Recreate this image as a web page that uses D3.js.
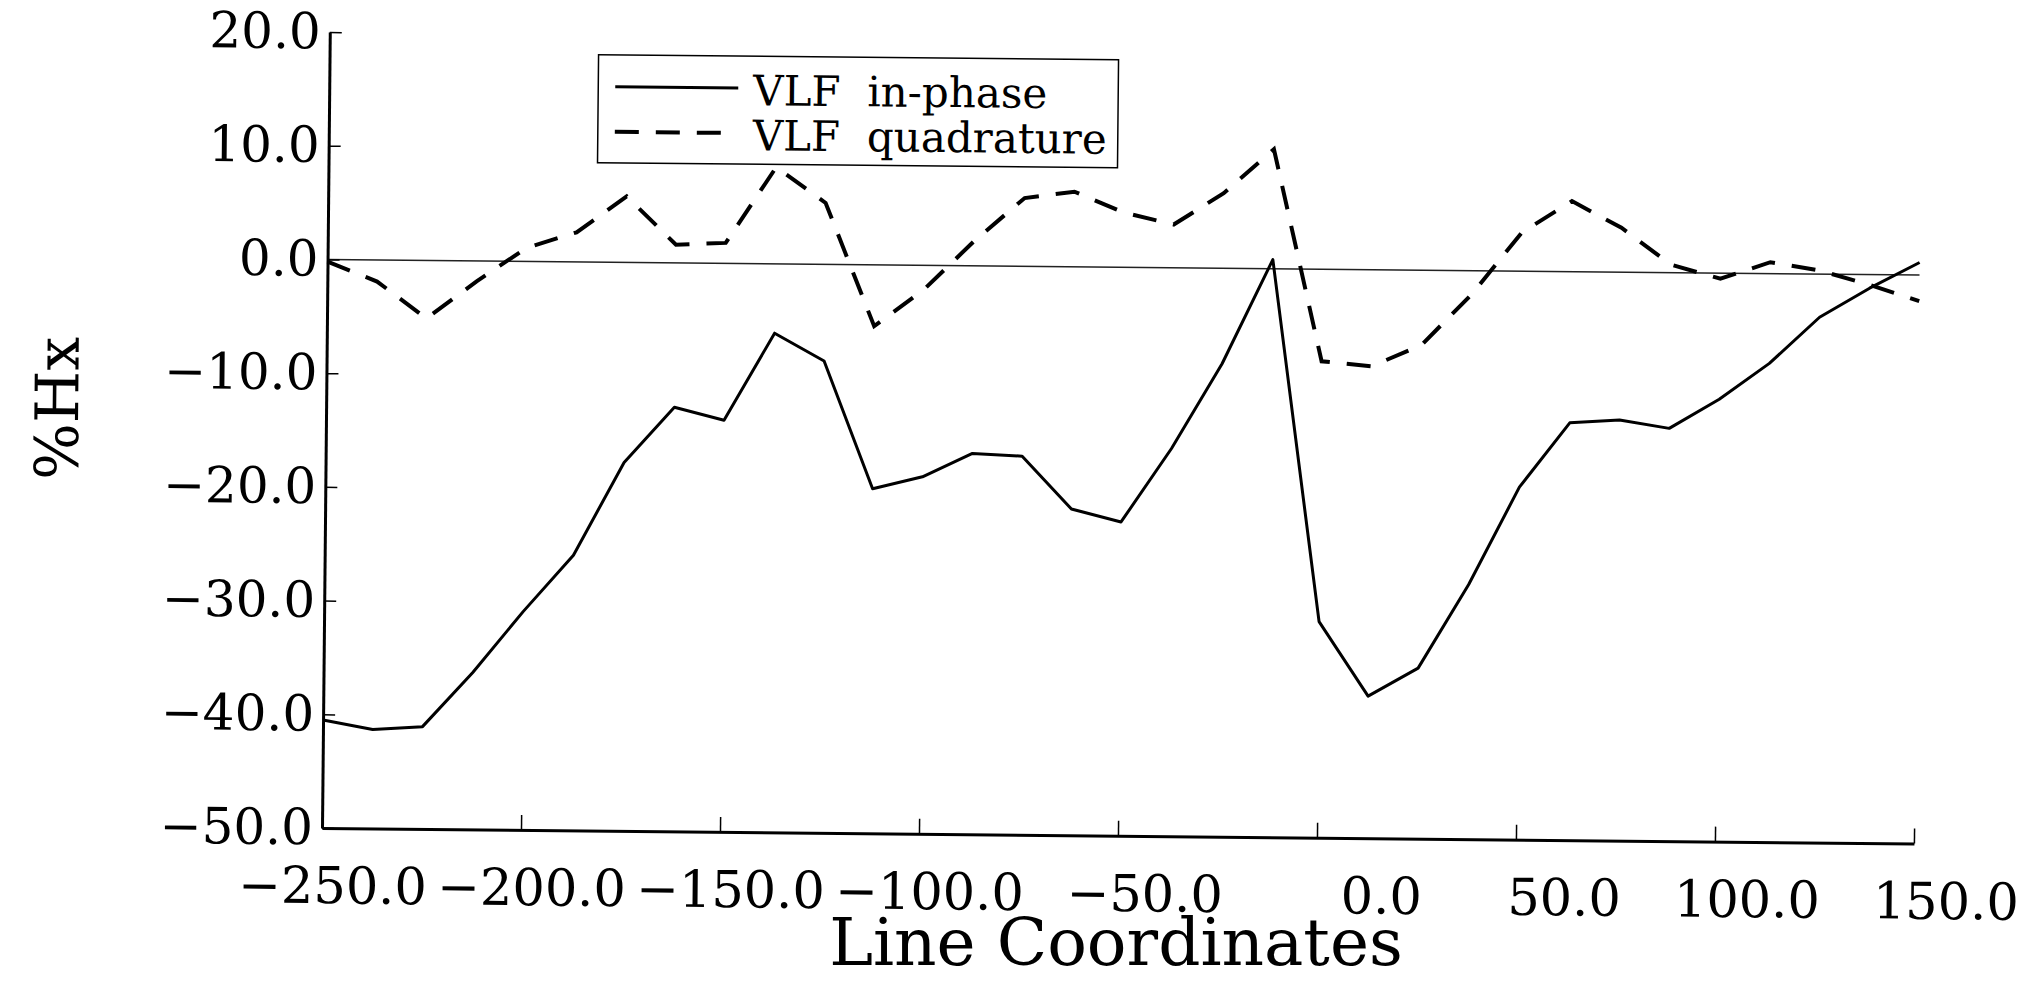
<!DOCTYPE html>
<html>
<head>
<meta charset="utf-8">
<script src="https://cdn.jsdelivr.net/npm/d3@7"></script>
<style>
  html, body { margin: 0; padding: 0; background: #fff; }
  svg { display: block; }
  text { font-family: "DejaVu Serif", serif; fill: #000; }
</style>
</head>
<body>
<svg id="chart"></svg>
<script>
// values
const lineCoords = [-250, -237.5, -225, -212.5, -200, -187.5, -175, -162.5, -150, -137.5, -125,
  -112.5, -100, -87.5, -75, -62.5, -50, -37.5, -25, -12.5, 0, 12.5, 25, 37.5, 50, 62.5, 75,
  87.5, 100, 112.5, 125, 137.5, 150];
const inPhase = [-40.5, -41.3, -41.0, -36.2, -30.8, -25.8, -17.6, -12.7, -13.8, -6.1, -8.5,
  -19.7, -18.6, -16.5, -16.7, -21.3, -22.4, -15.9, -8.4, 0.8, -31.0, -37.5, -35.0, -27.6, -19.0,
  -13.3, -13.0, -13.7, -11.1, -7.9, -3.8, -1.2, 1.1];
const quadrature = [-0.2, -1.9, -5.1, -1.8, 1.2, 2.6, 5.8, 1.6, 1.8, 8.5, 5.4,
  -5.4, -2.1, 2.2, 6.0, 6.6, 4.8, 3.8, 6.6, 10.5, -8.1, -8.5, -6.6, -2.1, 3.4,
  6.2, 3.9, 0.7, -0.5, 1.0, 0.3, -0.9, -2.3];
const xTicks = [-250, -200, -150, -100, -50, 0, 50, 100, 150];
const yTicks = [-50, -40, -30, -20, -10, 0, 10, 20];
const seriesNames = ["VLF\u00a0\u00a0in-phase", "VLF\u00a0\u00a0quadrature"];

class VlfProfile {
  constructor(_config) {
    this.config = {
      parentElement: _config.parentElement,
      containerWidth: 2028,
      containerHeight: 981,
      margin: { top: 32, right: 114, bottom: 153, left: 322 },
      tilt: 0.56, // the scan is slightly rotated
      dash: "24,17"
    };
    this.initVis();
  }

  initVis() {
    let vis = this;
    const c = vis.config;

    vis.width = c.containerWidth - c.margin.left - c.margin.right;
    vis.height = c.containerHeight - c.margin.top - c.margin.bottom;

    vis.xScale = d3.scaleLinear().domain([-250, 150]).range([0, vis.width]);
    vis.yScale = d3.scaleLinear().domain([-50, 20]).range([vis.height, 0]);

    vis.svg = d3.select(c.parentElement)
      .attr("width", c.containerWidth)
      .attr("height", c.containerHeight);

    vis.page = vis.svg.append("g")
      .attr("transform", `rotate(${c.tilt},${c.margin.left},${c.margin.top + vis.height})`);

    vis.chart = vis.page.append("g")
      .attr("transform", `translate(${c.margin.left},${c.margin.top})`);

    vis.renderVis();
  }

  renderVis() {
    let vis = this;
    const c = vis.config;
    const fmt = d3.format(".1f");

    // zero reference line
    vis.chart.append("line")
      .attr("x1", vis.xScale(-250))
      .attr("x2", vis.xScale(150))
      .attr("y1", vis.yScale(0))
      .attr("y2", vis.yScale(0))
      .attr("stroke", "#222")
      .attr("stroke-width", 1.5);

    const line = values => d3.line()
      .x((d, i) => vis.xScale(lineCoords[i]))
      .y(d => vis.yScale(d))(values);

    vis.chart.append("path")
      .attr("d", line(inPhase))
      .attr("fill", "none")
      .attr("stroke", "#000")
      .attr("stroke-width", 3)
      .attr("stroke-linejoin", "round");

    vis.chart.append("path")
      .attr("d", line(quadrature))
      .attr("fill", "none")
      .attr("stroke", "#000")
      .attr("stroke-width", 4)
      .attr("stroke-dasharray", c.dash);

    // axes, ticks pointing inward
    const yAxis = d3.axisLeft(vis.yScale)
      .tickValues(yTicks)
      .tickFormat(fmt)
      .tickSize(-12)
      .tickSizeOuter(0)
      .tickPadding(9);

    const xAxis = d3.axisBottom(vis.xScale)
      .tickValues(xTicks)
      .tickFormat(fmt)
      .tickSize(-15)
      .tickSizeOuter(0)
      .tickPadding(39);

    const yAxisG = vis.chart.append("g").call(yAxis);
    const xAxisG = vis.chart.append("g")
      .attr("transform", `translate(0,${vis.height})`)
      .call(xAxis);

    [xAxisG, yAxisG].forEach(g => {
      g.attr("font-family", null).attr("font-size", null);
      g.select(".domain").attr("stroke-width", 3);
      g.selectAll(".tick line").attr("stroke-width", 1.5);
    });
    yAxisG.selectAll(".tick text").attr("font-size", 50);
    // labels sit right-aligned past each tick, as in the original plot
    xAxisG.selectAll(".tick text")
      .attr("font-size", 51)
      .attr("text-anchor", "end")
      .attr("x", 105);

    // axis titles
    vis.page.append("text")
      .attr("transform", "translate(74,411) rotate(-90)")
      .attr("text-anchor", "middle")
      .attr("font-size", 60)
      .text("%Hx");

    vis.svg.append("text")
      .attr("x", 1116)
      .attr("y", 965)
      .attr("text-anchor", "middle")
      .attr("font-size", 66)
      .text("Line Coordinates");

    // legend
    const legend = vis.page.append("g").attr("transform", "translate(591,52)");
    legend.append("rect")
      .attr("width", 520)
      .attr("height", 108)
      .attr("fill", "none")
      .attr("stroke", "#000")
      .attr("stroke-width", 1.5);

    const rows = legend.selectAll(".legend-row")
      .data(seriesNames)
      .enter()
      .append("g")
      .attr("class", "legend-row")
      .attr("transform", (d, i) => `translate(0,${i * 45})`);

    rows.append("line")
      .attr("x1", 17)
      .attr("x2", 140)
      .attr("y1", 32)
      .attr("y2", 32)
      .attr("stroke", "#000")
      .attr("stroke-width", (d, i) => i === 0 ? 3 : 4)
      .attr("stroke-dasharray", (d, i) => i === 0 ? null : c.dash);

    rows.append("text")
      .attr("x", 155)
      .attr("y", 49)
      .attr("font-size", 42)
      .text(d => d);
  }
}

new VlfProfile({ parentElement: "#chart" });
</script>
</body>
</html>
